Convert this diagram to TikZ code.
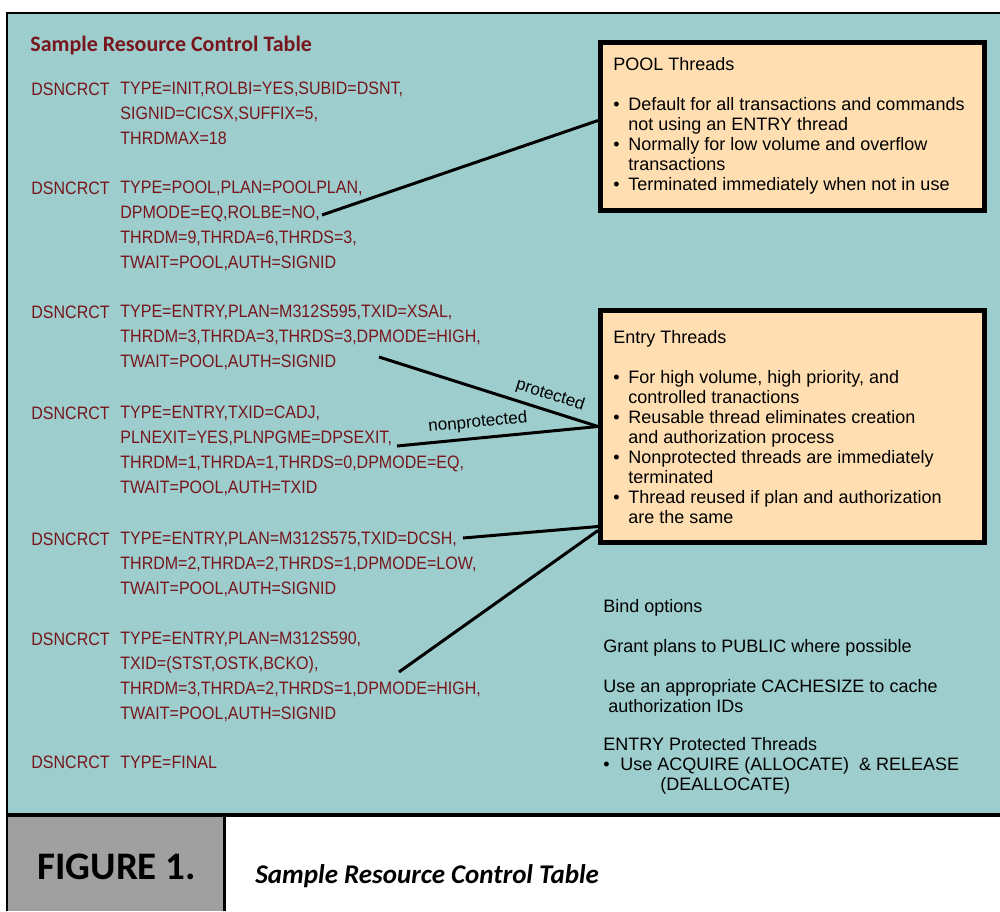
\documentclass[tikz,border=0pt]{standalone}
\usepackage{fontspec}
\setmainfont{Liberation Sans}
\newfontfamily\codefont[FakeStretch=0.89]{Liberation Sans}
\newfontfamily\capfont{Carlito}
\usetikzlibrary{calc}
\definecolor{panel}{RGB}{158,205,205}
\definecolor{notefill}{RGB}{255,222,178}
\definecolor{codered}{RGB}{118,22,28}
\definecolor{band}{RGB}{160,160,160}
\newcommand{\blt}{\makebox[7.5pt][l]{\textbullet}}
\newcommand{\hng}{\hspace*{7.5pt}}
\tikzstyle{code}=[anchor=base west, inner sep=0, align=left, text=codered, font=\codefont\fontsize{9pt}{12.35pt}\selectfont]
\tikzstyle{notebox}=[shape=rectangle, draw=black, line width=2.5pt, fill=notefill, minimum width=192pt, minimum height=84pt]
\tikzstyle{txt}=[anchor=base west, inner sep=0, align=left, font=\fontsize{9pt}{10pt}\selectfont]
\tikzstyle{tag}=[font=\fontsize{8.5pt}{10pt}\selectfont, inner sep=1pt]
\tikzstyle{l}=[draw, line width=1.5pt]

\begin{document}
\begin{tikzpicture}[x=0.5pt, y=-0.5pt]
\useasboundingbox (0,0) rectangle (1000,911);

% panel and caption band
\fill[panel] (7,13) rectangle (1000,815);
\fill[band] (7,815) rectangle (224,911);
\draw[line width=1pt] (1000,13) -- (7,13) -- (7,911);
\draw[line width=2pt] (7,815) -- (1000,815);
\draw[line width=1.5pt] (224,815) -- (224,911);

% caption
\node[anchor=base west, inner sep=0, font=\capfont\bfseries\fontsize{19.5pt}{22pt}\selectfont] (fig) at (37,879) {FIGURE 1.};
\node[anchor=base west, inner sep=0, font=\capfont\bfseries\itshape\fontsize{13.5pt}{16pt}\selectfont] (cap) at (255,883) {Sample Resource Control Table};

% title
\node[anchor=base west, inner sep=0, text=codered, font=\capfont\bfseries\fontsize{11pt}{13pt}\selectfont] (title) at (30,51) {Sample Resource Control Table};

% table entries (multi-line nodes sit on their last line)
\node[code] (k1) at (31,95) {DSNCRCT};
\node[code] (p1) at (120,144) {TYPE=INIT,ROLBI=YES,SUBID=DSNT,\\SIGNID=CICSX,SUFFIX=5,\\THRDMAX=18};

\node[code] (k2) at (31,194) {DSNCRCT};
\node[code] (p2) at (120,268) {TYPE=POOL,PLAN=POOLPLAN,\\DPMODE=EQ,ROLBE=NO,\\THRDM=9,THRDA=6,THRDS=3,\\TWAIT=POOL,AUTH=SIGNID};

\node[code] (k3) at (31,318) {DSNCRCT};
\node[code] (p3) at (120,367) {TYPE=ENTRY,PLAN=M312S595,TXID=XSAL,\\THRDM=3,THRDA=3,THRDS=3,DPMODE=HIGH,\\TWAIT=POOL,AUTH=SIGNID};

\node[code] (k4) at (31,419) {DSNCRCT};
\node[code] (p4) at (120,493) {TYPE=ENTRY,TXID=CADJ,\\PLNEXIT=YES,PLNPGME=DPSEXIT,\\THRDM=1,THRDA=1,THRDS=0,DPMODE=EQ,\\TWAIT=POOL,AUTH=TXID};

\node[code] (k5) at (31,545) {DSNCRCT};
\node[code] (p5) at (120,594) {TYPE=ENTRY,PLAN=M312S575,TXID=DCSH,\\THRDM=2,THRDA=2,THRDS=1,DPMODE=LOW,\\TWAIT=POOL,AUTH=SIGNID};

\node[code] (k6) at (31,645) {DSNCRCT};
\node[code] (p6) at (120,719) {TYPE=ENTRY,PLAN=M312S590,\\TXID=(STST,OSTK,BCKO),\\THRDM=3,THRDA=2,THRDS=1,DPMODE=HIGH,\\TWAIT=POOL,AUTH=SIGNID};

\node[code] (k7) at (31,768) {DSNCRCT};
\node[code] (p7) at (120,768) {TYPE=FINAL};

% thread boxes
\node[notebox] (pool) at (792.5,126.5) {};
\node[txt] (poolt) at (613,190) {POOL Threads\\[10pt]\blt Default for all transactions and commands\\\hng not using an ENTRY thread\\\blt Normally for low volume and overflow\\\hng transactions\\\blt Terminated immediately when not in use};

\node[notebox, minimum height=116pt] (entry) at (792.5,426.5) {};
\node[txt] (entryt) at (613,523) {Entry Threads\\[10pt]\blt For high volume, high priority, and\\\hng controlled tranactions\\\blt Reusable thread eliminates creation\\\hng and authorization process\\\blt Nonprotected threads are immediately\\\hng terminated\\\blt Thread reused if plan and authorization\\\hng are the same};

% bind options
\node[txt] (bind) at (603,790) {Bind options\\[10pt]Grant plans to PUBLIC where possible\\[10pt]Use an appropriate CACHESIZE to cache\\\ authorization IDs\\[9pt]ENTRY Protected Threads\\\makebox[8.5pt][l]{\textbullet}Use ACQUIRE (ALLOCATE)\ \ \& RELEASE\\\hspace*{28.5pt}(DEALLOCATE)};

% connectors
\coordinate (s1) at (322,215);
\coordinate (s2) at (379,357);
\coordinate (s3) at (397,446);
\coordinate (s4) at (463,538);
\coordinate (s5) at (399,672);

\path [l] (s1) -- ($(pool.west)+(0,-6)$);
\path [l] (s2) -- node[tag, pos=0.76, above=2pt, sloped] {protected} (entry.west);
\path [l] (s3) -- node[tag, pos=0.41, above=2pt, sloped] {nonprotected} (entry.west);
\path [l] (s4) -- ($(entry.west)+(0,100)$);
\path [l] (s5) -- ($(entry.west)+(0,104)$);

\end{tikzpicture}
\end{document}
